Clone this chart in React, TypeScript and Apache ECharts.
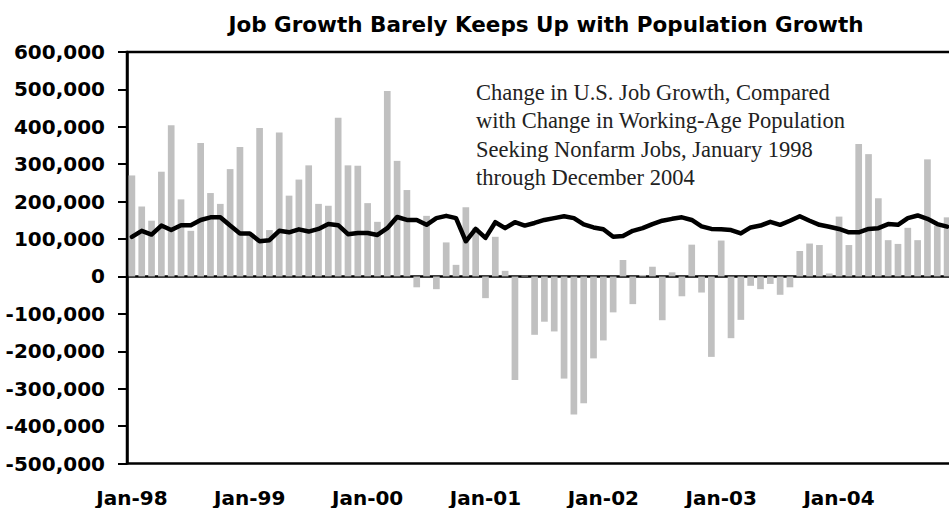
import React, { useEffect, useRef } from 'react';
import * as echarts from 'echarts';

const MONTHS = ['Jan', 'Feb', 'Mar', 'Apr', 'May', 'Jun', 'Jul', 'Aug', 'Sep', 'Oct', 'Nov', 'Dec'];
const YEARS = ['98', '99', '00', '01', '02', '03', '04'];
const CATEGORIES = YEARS.flatMap((y) => MONTHS.map((m) => `${m}-${y}`));

const TITLE = 'Job Growth Barely Keeps Up with Population Growth';

const ANNOTATION_LINES = [
  'Change in U.S. Job Growth, Compared',
  'with Change in Working-Age Population',
  'Seeking Nonfarm Jobs, January 1998',
  'through December 2004',
];

// Monthly change in nonfarm payroll jobs (bars)
const JOB_CHANGE_1998 = [270000, 187000, 149000, 280000, 404000, 206000, 122000, 357000, 223000, 194000, 287000, 346000];
const JOB_CHANGE_1999 = [115000, 397000, 124000, 385000, 216000, 259000, 297000, 194000, 189000, 424000, 297000, 296000];
const JOB_CHANGE_2000 = [196000, 146000, 496000, 309000, 231000, -29000, 162000, -34000, 91000, 31000, 185000, 130000];
const JOB_CHANGE_2001 = [-58000, 106000, 15000, -277000, 2000, -156000, -121000, -147000, -273000, -369000, -339000, -219000];
const JOB_CHANGE_2002 = [-171000, -96000, 44000, -74000, 4000, 26000, -117000, 11000, -53000, 85000, -43000, -215000];
const JOB_CHANGE_2003 = [96000, -165000, -116000, -25000, -34000, -20000, -49000, -29000, 68000, 88000, 84000, 8000];
const JOB_CHANGE_2004 = [160000, 84000, 354000, 327000, 209000, 97000, 87000, 130000, 97000, 313000, 136000, 158000];

// Monthly change in working-age population seeking nonfarm jobs (line)
const POP_CHANGE_1998 = [106000, 122000, 112000, 136000, 124000, 137000, 137000, 151000, 158000, 158000, 136000, 115000];
const POP_CHANGE_1999 = [115000, 94000, 97000, 122000, 118000, 126000, 120000, 127000, 140000, 137000, 113000, 116000];
const POP_CHANGE_2000 = [116000, 111000, 129000, 159000, 151000, 151000, 138000, 156000, 162000, 156000, 94000, 127000];
const POP_CHANGE_2001 = [103000, 145000, 129000, 145000, 136000, 143000, 151000, 156000, 161000, 156000, 139000, 131000];
const POP_CHANGE_2002 = [126000, 106000, 108000, 122000, 129000, 140000, 149000, 154000, 158000, 151000, 134000, 127000];
const POP_CHANGE_2003 = [126000, 124000, 115000, 131000, 136000, 146000, 138000, 149000, 161000, 149000, 138000, 133000];
const POP_CHANGE_2004 = [127000, 118000, 118000, 127000, 129000, 140000, 138000, 156000, 163000, 154000, 140000, 133000];

const JOB_CHANGE = [
  ...JOB_CHANGE_1998, ...JOB_CHANGE_1999, ...JOB_CHANGE_2000, ...JOB_CHANGE_2001,
  ...JOB_CHANGE_2002, ...JOB_CHANGE_2003, ...JOB_CHANGE_2004,
];
const POP_CHANGE = [
  ...POP_CHANGE_1998, ...POP_CHANGE_1999, ...POP_CHANGE_2000, ...POP_CHANGE_2001,
  ...POP_CHANGE_2002, ...POP_CHANGE_2003, ...POP_CHANGE_2004,
];

const Y_MIN = -500000;
const Y_MAX = 600000;
const Y_STEP = 100000;

const SANS = '"DejaVu Sans", Arial, sans-serif';

export default function App() {
  const ref = useRef<HTMLDivElement>(null);

  useEffect(() => {
    if (!ref.current) return;
    const chart = echarts.init(ref.current, null, { renderer: 'svg' });
    chart.setOption({
      animation: false,
      backgroundColor: '#ffffff',
      title: {
        text: TITLE,
        left: 541,
        top: 8,
        textAlign: 'center',
        textStyle: { fontFamily: SANS, fontWeight: 'bold', fontSize: 21.5, color: '#000' },
      },
      grid: {
        left: 127,
        top: 52,
        width: 825,
        height: 411.5,
        show: true,
        borderColor: '#000',
        borderWidth: 2.5,
        backgroundColor: 'transparent',
        containLabel: false,
      },
      xAxis: [
        {
          type: 'category',
          data: CATEGORIES,
          axisLine: { show: true, onZero: true, lineStyle: { color: '#000', width: 2.5 } },
          axisTick: { show: false },
          axisLabel: { show: false },
          splitLine: { show: false },
        },
        {
          type: 'category',
          data: CATEGORIES,
          position: 'bottom',
          axisLine: { show: false, onZero: false },
          axisTick: { show: false },
          splitLine: { show: false },
          axisLabel: {
            interval: 11,
            margin: 24,
            color: '#000',
            fontFamily: SANS,
            fontWeight: 'bold',
            fontSize: 20,
          },
        },
      ],
      yAxis: {
        type: 'value',
        min: Y_MIN,
        max: Y_MAX,
        interval: Y_STEP,
        axisLine: { show: true, lineStyle: { color: '#000', width: 2.5 } },
        axisTick: { show: true, inside: false, length: 9, lineStyle: { color: '#000', width: 2 } },
        splitLine: { show: false },
        axisLabel: {
          margin: 22,
          color: '#000',
          fontFamily: SANS,
          fontWeight: 'bold',
          fontSize: 20,
          formatter: (v: number) => v.toLocaleString('en-US'),
        },
      },
      series: [
        {
          type: 'bar',
          xAxisIndex: 0,
          data: JOB_CHANGE,
          barCategoryGap: '32%',
          itemStyle: { color: '#c0c0c0' },
          z: 2,
        },
        {
          type: 'line',
          xAxisIndex: 0,
          data: POP_CHANGE,
          symbol: 'none',
          lineStyle: { color: '#000', width: 4.5, join: 'round', cap: 'round' },
          z: 3,
        },
      ],
      graphic: ANNOTATION_LINES.map((line, i) => ({
        type: 'text',
        x: 476,
        y: 92 + i * 28.6,
        z: 10,
        style: {
          text: line,
          font: '22.5px "Liberation Serif", "Times New Roman", serif',
          fill: '#222222',
          verticalAlign: 'middle',
          align: 'left',
        },
      })),
    });
    return () => chart.dispose();
  }, []);

  return (
    <div
      ref={ref}
      style={{ position: 'fixed', left: 0, top: 0, width: 960, height: 508 }}
    />
  );
}
